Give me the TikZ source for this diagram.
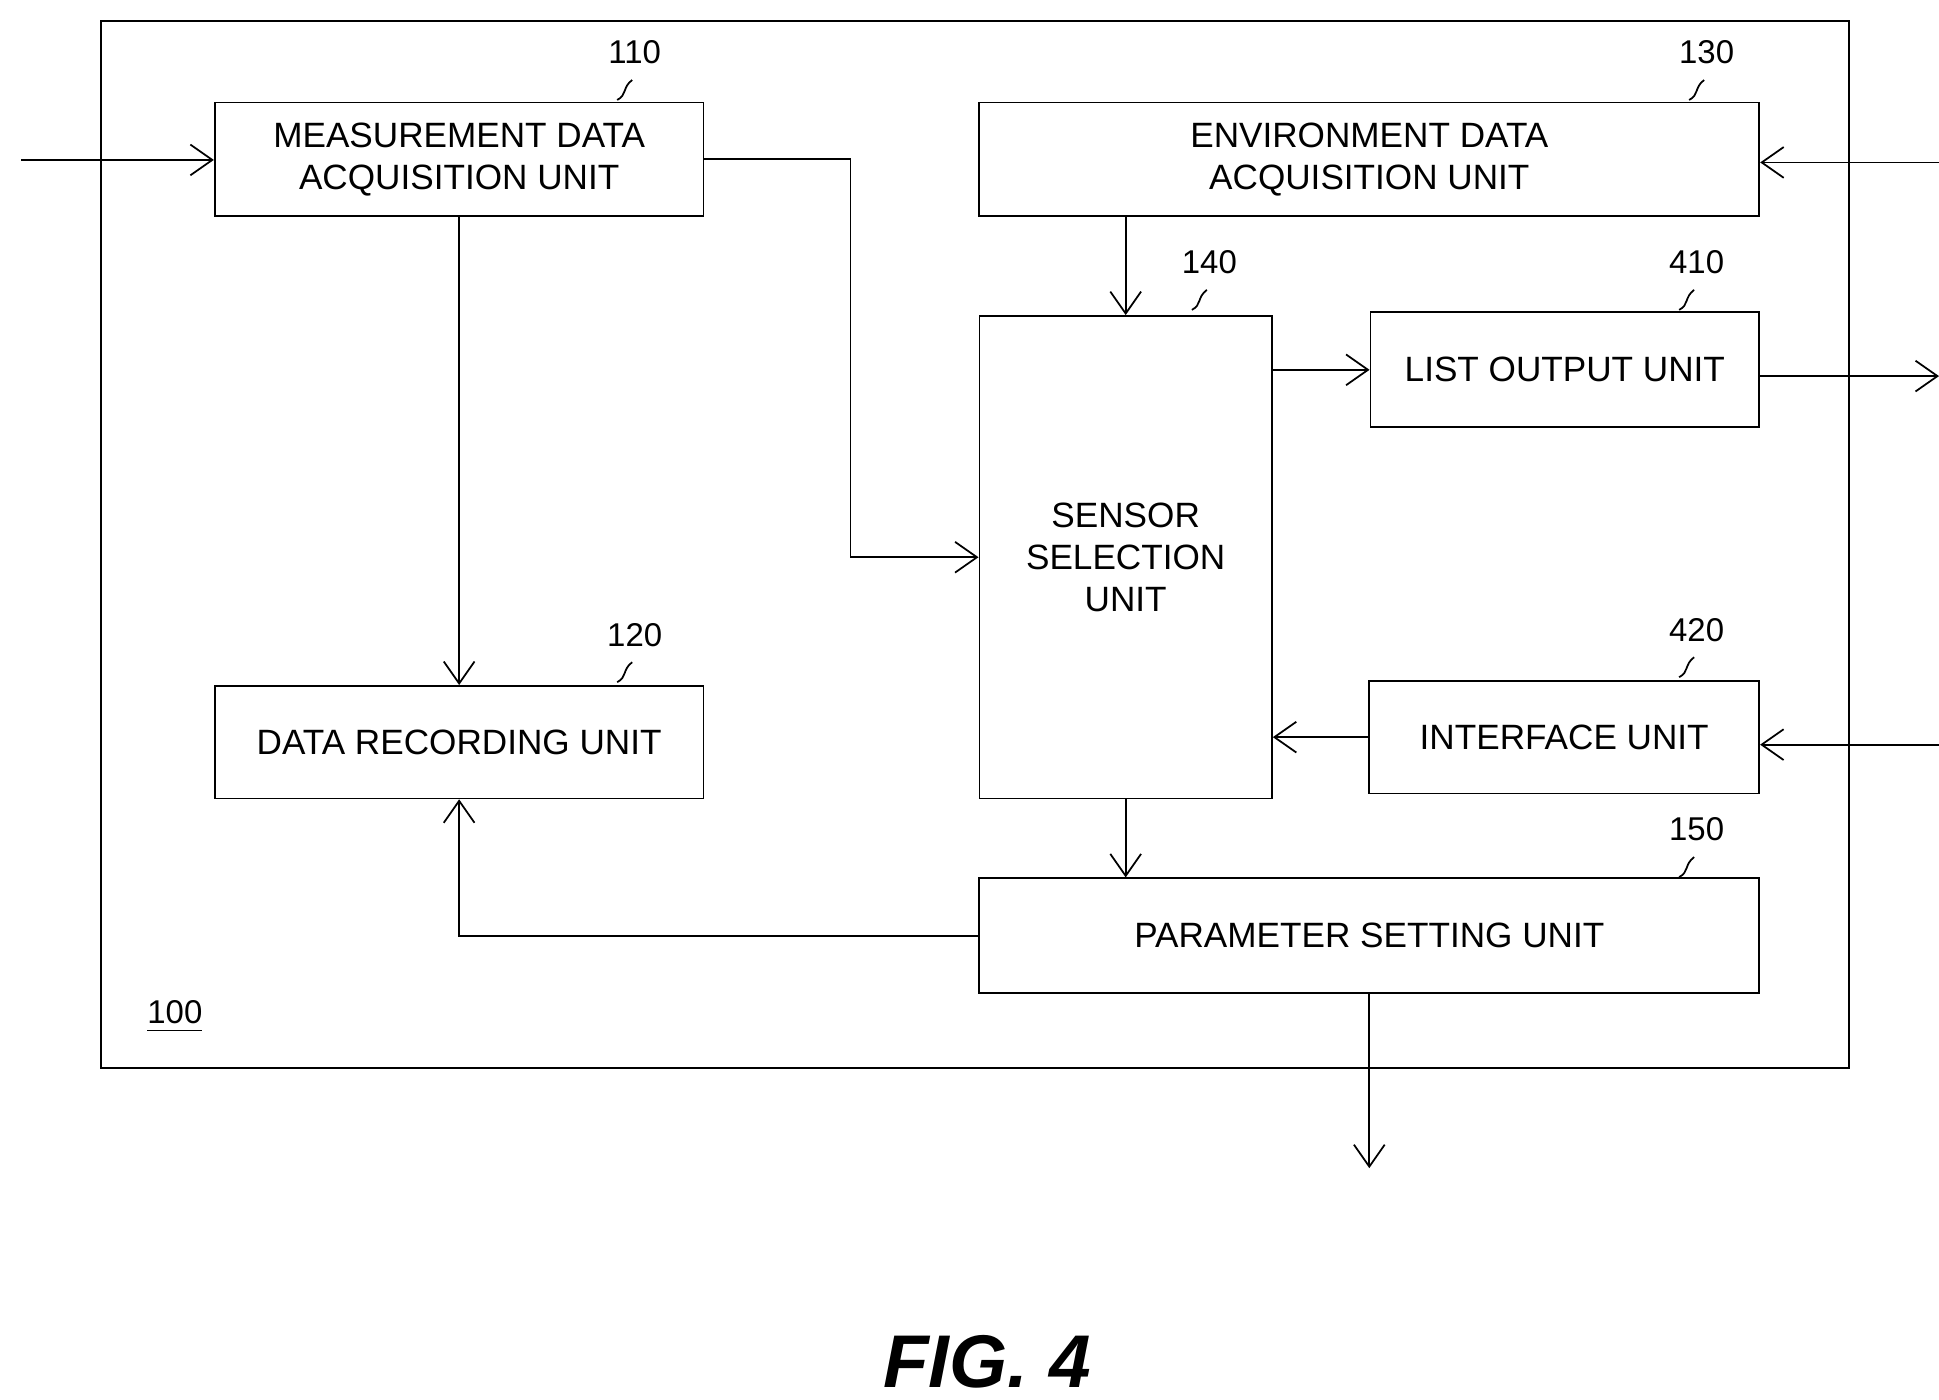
\documentclass[tikz,border=0pt]{standalone}
\usepackage{fontspec}
\setmainfont{Liberation Sans}
\usetikzlibrary{arrows.meta,positioning}
\tikzset{
    unit/.style={draw, thin, align=center, inner sep=0pt, font=\fontsize{8}{9.5}\selectfont},
    flow/.style={thin, -{Straight Barb[length=5pt,width=7pt]}},
    refnum/.style={font=\fontsize{7.5}{9}\selectfont},
}
\begin{document}
\begin{tikzpicture}[x=0.01cm, y=-0.01cm]
    \useasboundingbox (0,0) rectangle (1552,1120);
    %%Khung ngoai
    \draw[thin] (81,17) rectangle (1480,855);
    \node[refnum] (n100) at (140,814) {\underline{100}};
    %%Cac khoi
    \node[unit, minimum width=3.91cm, minimum height=0.91cm] (mda) at (367.5,127.5) {MEASUREMENT DATA\\ACQUISITION UNIT};
    \node[unit, minimum width=6.24cm, minimum height=0.91cm] (eda) at (1096,127.5) {ENVIRONMENT DATA\\ACQUISITION UNIT};
    \node[unit, minimum width=2.34cm, minimum height=3.86cm] (ssu) at (901,446) {SENSOR\\SELECTION\\UNIT};
    \node[unit, minimum width=3.11cm, minimum height=0.92cm] (lou) at (1252.5,296) {LIST OUTPUT UNIT};
    \node[unit, minimum width=3.12cm, minimum height=0.90cm] (ifu) at (1252,590) {INTERFACE UNIT};
    \node[unit, minimum width=3.91cm, minimum height=0.90cm] (dru) at (367.5,594) {DATA RECORDING UNIT};
    \node[unit, minimum width=6.24cm, minimum height=0.92cm] (psu) at (1096,749) {PARAMETER SETTING UNIT};
    %%So hieu
    \foreach \num/\x/\y in {110/508/42, 130/1366/42, 140/968/210, 410/1358/210, 420/1358/504, 120/508/508, 150/1358/664}{
        \node[refnum] (r\num) at (\x,\y) {\num};
        \draw[thin] (\x-14,\y+38) .. controls (\x-6,\y+34) and (\x-10,\y+28) .. (\x-2,\y+22);
    }
    %%Dau vao / dau ra
    \coordinate (inmda) at (17,128);
    \coordinate (ineda) at (1552,130);
    \coordinate (outlou) at (1552,301);
    \coordinate (inifu) at (1552,596);
    \coordinate (outpsu) at (1096,935);
    \draw[flow] (inmda) -- (inmda -| mda.west);
    \draw[flow] (ineda) -- (ineda -| eda.east);
    \draw[flow] (outlou -| lou.east) -- (outlou);
    \draw[flow] (inifu) -- (inifu -| ifu.east);
    \draw[flow] (psu.south) -- (outpsu);
    %%Cac mui ten
    \draw[flow] (mda.east) -- ++(117,0) |- (ssu.west);
    \draw[flow] (mda.south) -- (dru.north);
    \draw[flow] (ssu.north |- eda.south) -- (ssu.north);
    \draw[flow] (ssu.east |- lou.west) -- (lou.west);
    \draw[flow] (ifu.west) -- (ifu.west -| ssu.east);
    \draw[flow] (ssu.south) -- (ssu.south |- psu.north);
    \draw[flow] (psu.west) -| (dru.south);
    %%Hinh
    \node[font=\fontsize{17}{20}\selectfont\bfseries\itshape] (fig) at (790,1090) {FIG. 4};
\end{tikzpicture}
\end{document}
